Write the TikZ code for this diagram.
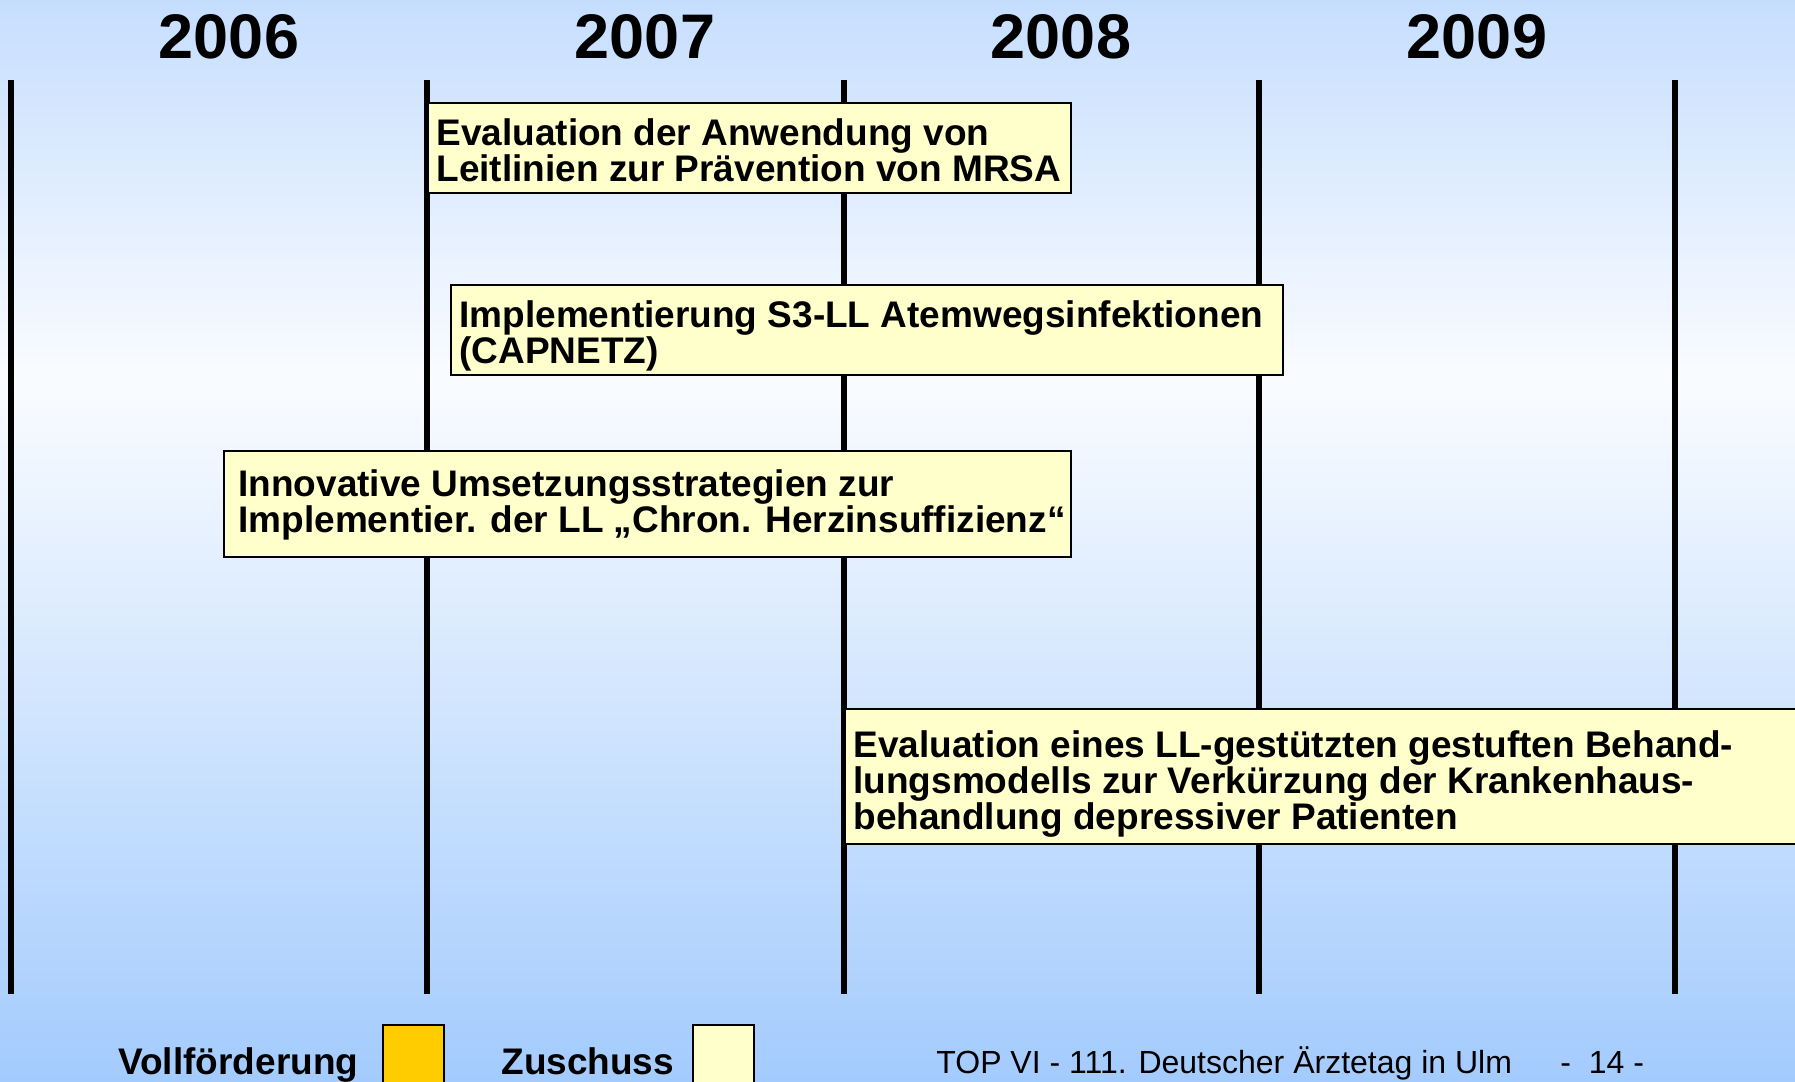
\documentclass[tikz,border=0pt]{standalone}
\usepackage{fontspec}
\setmainfont{Liberation Sans}
\definecolor{bgtop}{HTML}{C6DEFE}
\definecolor{bgmid}{HTML}{FAFCFF}
\definecolor{bgbot}{HTML}{A3CBFD}
\definecolor{pale}{HTML}{FFFFCC}
\definecolor{gold}{HTML}{FFCC00}
\begin{document}
\begin{tikzpicture}[x=0.5pt,y=-0.5pt,
  yearline/.style={line width=3pt},
  bar/.style={draw=black, line width=1pt, fill=pale, inner sep=0pt, anchor=north west},
  lbl/.style={inner sep=0pt, align=left, font=\bfseries\fontsize{18.5}{18}\selectfont, anchor=base west},
  year/.style={inner sep=0pt, font=\bfseries\fontsize{31.5}{32}\selectfont, anchor=base},
  legend/.style={inner sep=0pt, font=\bfseries\fontsize{18.5}{18}\selectfont, anchor=base west},
  foot/.style={inner sep=0pt, font=\fontsize{16}{18}\selectfont, anchor=base west},
  swatch/.style={draw=black, line width=1pt, inner sep=0pt, anchor=north west, minimum width=30.5pt, minimum height=30pt},
]
\useasboundingbox (0,0) rectangle (1795,1082);
% background
\fill[top color=bgtop, bottom color=bgmid] (0,0) rectangle (1795,380);
\fill[top color=bgmid, bottom color=bgbot] (0,379) rectangle (1795,1082);

% year labels
\node[year] (y2006) at (229,58) {2006};
\node[year] (y2007) at (645,58) {2007};
\node[year] (y2008) at (1061,58) {2008};
\node[year] (y2009) at (1477,58) {2009};

% year boundary lines
\coordinate (t0) at (11,80);   \coordinate (u0) at (11,994);
\coordinate (t1) at (427,80);  \coordinate (u1) at (427,994);
\coordinate (t2) at (844,80);  \coordinate (u2) at (844,994);
\coordinate (t3) at (1259,80); \coordinate (u3) at (1259,994);
\coordinate (t4) at (1675,80); \coordinate (u4) at (1675,994);
\foreach \i in {0,...,4} \draw[yearline] (t\i) -- (u\i);

% project bars (label anchors are on the baseline of the last line)
\node[bar, minimum width=321.5pt, minimum height=45pt] (b1) at (427,102) {};
\node[lbl] (l1) at (436,181.5) {Evaluation der Anwendung von\\Leitlinien zur Prävention von MRSA};

\node[bar, minimum width=416pt, minimum height=45pt] (b2) at (450,284) {};
\node[lbl] (l2) at (459,363.5) {Implementierung S3-LL Atemwegsinfektionen\\(CAPNETZ)};

\node[bar, minimum width=423.5pt, minimum height=53pt] (b3) at (223,450) {};
\node[lbl] (l3) at (238,532) {Innovative Umsetzungsstrategien zur\\Implementier. der LL „Chron. Herzinsuffizienz“};

\node[bar, minimum width=480pt, minimum height=67.5pt] (b4) at (844,708) {};
\node[lbl] (l4) at (853,829) {Evaluation eines LL-gestützten gestuften Behand-\\lungsmodells zur Verkürzung der Krankenhaus-\\behandlung depressiver Patienten};

% legend
\node[legend] (lv) at (118,1074) {Vollförderung};
\node[swatch, fill=gold] (sv) at (382,1024) {};
\node[legend] (lz) at (501,1074) {Zuschuss};
\node[swatch, fill=pale] (sz) at (692,1024) {};

% footer
\node[foot] (ft) at (936,1073) {TOP VI - 111. Deutscher Ärztetag in Ulm};
\node[foot] (pg) at (1560,1073) {-\ \ 14 -};
\end{tikzpicture}
\end{document}
